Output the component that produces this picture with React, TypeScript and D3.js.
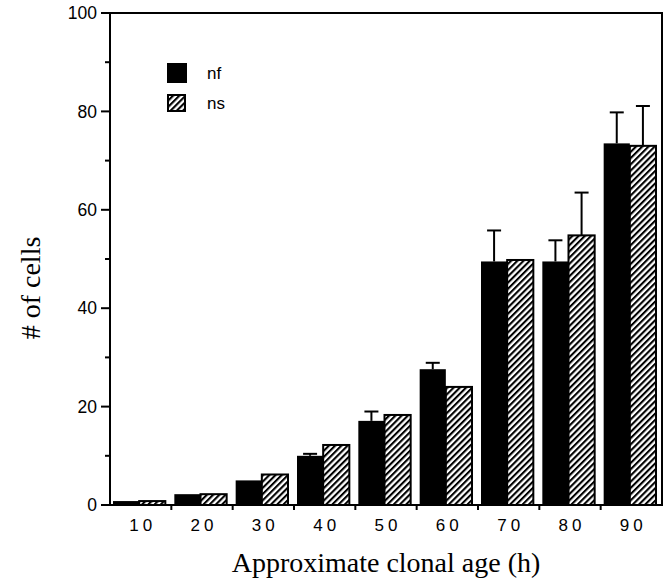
import * as d3 from "d3";
import { useEffect, useRef } from "react";

const ages = ["10", "20", "30", "40", "50", "60", "70", "80", "90"];
const nfValues = [0.8, 2.2, 5.0, 10.0, 17.1, 27.6, 49.5, 49.5, 73.5];
const nsValues = [0.8, 2.2, 6.2, 12.2, 18.3, 24.0, 49.8, 54.8, 73.0];
const nfErrors = [0, 0, 0, 0.4, 1.9, 1.3, 6.3, 4.3, 6.3];
const nsErrors = [0, 0, 0, 0, 0, 0, 0, 8.7, 8.1];
const yTicks = [0, 20, 40, 60, 80, 100];
const yMinorTicks = [10, 30, 50, 70, 90];
const seriesNames = ["nf", "ns"];

const App = () => {
  const ref = useRef<SVGSVGElement | null>(null);

  useEffect(() => {
    document.body.style.margin = "0";
    const width = 666;
    const height = 581;
    const margin = { top: 13, right: 4, bottom: 76, left: 110 };
    const plotBottom = height - margin.bottom;
    const plotRight = width - margin.right;

    const svg = d3.select(ref.current);
    svg.selectAll("*").remove();

    const defs = svg.append("defs");
    const pat = defs
      .append("pattern")
      .attr("id", "hatch")
      .attr("patternUnits", "userSpaceOnUse")
      .attr("width", 4.4)
      .attr("height", 10)
      .attr("patternTransform", "rotate(45)");
    pat.append("rect").attr("width", 4.4).attr("height", 10).attr("fill", "#fff");
    pat.append("rect").attr("width", 2.1).attr("height", 10).attr("fill", "#000");

    const x0 = d3.scaleBand().domain(ages).range([margin.left, plotRight]).padding(0);
    const x1 = d3
      .scaleBand()
      .domain(seriesNames)
      .range([3, x0.bandwidth() - 6])
      .padding(0);
    const y = d3.scaleLinear().domain([0, 100]).range([plotBottom, margin.top]);

    const rows = ages.map((a, i) => ({
      age: a,
      nf: nfValues[i],
      ns: nsValues[i],
      nfErr: nfErrors[i],
      nsErr: nsErrors[i],
    }));

    const g = svg.append("g");

    // bars
    const group = g
      .selectAll(".grp")
      .data(rows)
      .join("g")
      .attr("class", "grp")
      .attr("transform", (d) => `translate(${x0(d.age)},0)`);

    group
      .append("rect")
      .attr("x", x1("nf")!)
      .attr("y", (d) => y(d.nf))
      .attr("width", x1.bandwidth())
      .attr("height", (d) => y(0) - y(d.nf))
      .attr("fill", "#000");

    group
      .append("rect")
      .attr("x", x1("ns")!)
      .attr("y", (d) => y(d.ns))
      .attr("width", x1.bandwidth())
      .attr("height", (d) => y(0) - y(d.ns))
      .attr("fill", "url(#hatch)")
      .attr("stroke", "#000")
      .attr("stroke-width", 2);

    // error bars (upper only)
    const errs = rows
      .flatMap((d) => [
        { age: d.age, s: "nf", v: d.nf, e: d.nfErr },
        { age: d.age, s: "ns", v: d.ns, e: d.nsErr },
      ])
      .filter((d) => d.e > 0);

    const eb = g
      .selectAll(".err")
      .data(errs)
      .join("g")
      .attr("class", "err")
      .attr("stroke", "#000")
      .attr("stroke-width", 2);
    const cx = (d: any) => x0(d.age)! + x1(d.s)! + x1.bandwidth() / 2;
    eb.append("line")
      .attr("x1", cx)
      .attr("x2", cx)
      .attr("y1", (d) => y(d.v))
      .attr("y2", (d) => y(d.v + d.e));
    eb.append("line")
      .attr("x1", (d) => cx(d) - 7)
      .attr("x2", (d) => cx(d) + 7)
      .attr("y1", (d) => y(d.v + d.e))
      .attr("y2", (d) => y(d.v + d.e));

    // frame
    const axes = g.append("g").attr("stroke", "#000").attr("stroke-width", 2).attr("fill", "none");
    axes.append("path").attr(
      "d",
      `M${margin.left},${plotBottom}V${margin.top}H${plotRight}V${plotBottom}H${margin.left}`
    );
    axes
      .selectAll(".ymaj")
      .data(yTicks)
      .join("line")
      .attr("x1", margin.left - 9)
      .attr("x2", margin.left)
      .attr("y1", (d) => y(d))
      .attr("y2", (d) => y(d));
    axes
      .selectAll(".ymin")
      .data(yMinorTicks)
      .join("line")
      .attr("class", "ymin")
      .attr("x1", margin.left - 5)
      .attr("x2", margin.left)
      .attr("y1", (d) => y(d))
      .attr("y2", (d) => y(d));
    axes
      .selectAll(".xt")
      .data(ages.slice(1))
      .join("line")
      .attr("class", "xt")
      .attr("x1", (d) => x0(d)!)
      .attr("x2", (d) => x0(d)!)
      .attr("y1", plotBottom)
      .attr("y2", plotBottom + 5);

    const sans = "'Liberation Sans', Arial, Helvetica, sans-serif";
    const serif = "'Liberation Serif', 'Times New Roman', serif";

    g.selectAll(".ylab")
      .data(yTicks)
      .join("text")
      .attr("class", "ylab")
      .attr("x", margin.left - 13)
      .attr("y", (d) => y(d))
      .attr("dy", "0.35em")
      .attr("text-anchor", "end")
      .attr("font-family", sans)
      .attr("font-size", 17.5)
      .text((d) => d);

    g.selectAll(".xlab")
      .data(ages)
      .join("text")
      .attr("class", "xlab")
      .attr("x", (d) => x0(d)! + x0.bandwidth() / 2 + 2)
      .attr("y", plotBottom + 26)
      .attr("text-anchor", "middle")
      .attr("font-family", sans)
      .attr("font-size", 17)
      .attr("letter-spacing", 4)
      .text((d) => d);

    g.append("text")
      .attr("x", (margin.left + plotRight) / 2)
      .attr("y", 572)
      .attr("text-anchor", "middle")
      .attr("font-family", serif)
      .attr("font-size", 28)
      .text("Approximate clonal age (h)");

    g.append("text")
      .attr("transform", `translate(40,288) rotate(-90)`)
      .attr("text-anchor", "middle")
      .attr("font-family", serif)
      .attr("font-size", 28)
      .text("# of cells");

    // legend
    const legend = g.append("g").attr("transform", "translate(167,63)");
    legend.append("rect").attr("width", 20).attr("height", 20).attr("fill", "#000");
    legend
      .append("rect")
      .attr("x", 1)
      .attr("y", 32)
      .attr("width", 17)
      .attr("height", 16)
      .attr("fill", "url(#hatch)")
      .attr("stroke", "#000")
      .attr("stroke-width", 2);
    legend
      .selectAll(".lt")
      .data(seriesNames)
      .join("text")
      .attr("class", "lt")
      .attr("x", 40)
      .attr("y", (_, i) => 10 + i * 30)
      .attr("dy", "0.35em")
      .attr("font-family", sans)
      .attr("font-size", 17)
      .text((d) => d);
  }, []);

  return <svg ref={ref} width={666} height={581} style={{ display: "block" }} />;
};

export default App;
